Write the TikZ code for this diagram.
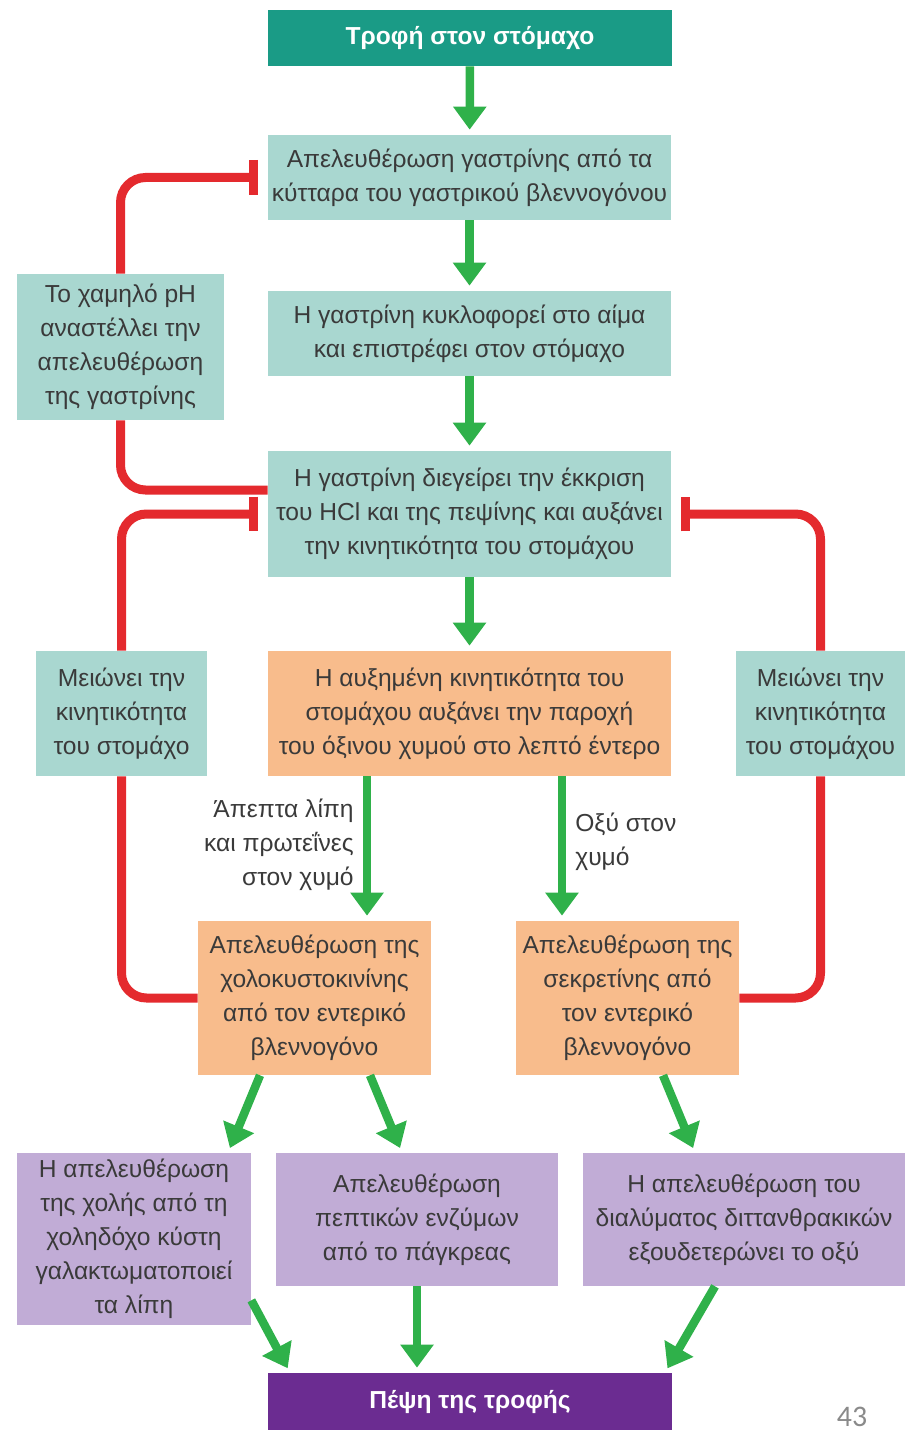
\documentclass[tikz,border=0pt]{standalone}
\usepackage{fontspec}
\setmainfont{Liberation Sans}
\newfontfamily\pagefont{Carlito}
\usepackage{xcolor}
\usepackage{tikz}
\usetikzlibrary{calc,positioning,arrows.meta}
\definecolor{figTeal}{HTML}{1A9B86}
\definecolor{figPale}{HTML}{A9D7D0}
\definecolor{figOrange}{HTML}{F8BC8C}
\definecolor{figLilac}{HTML}{C1ACD6}
\definecolor{figPurple}{HTML}{6B2C91}
\definecolor{figGreen}{HTML}{2FB14A}
\definecolor{figRed}{HTML}{E42A2E}
\definecolor{figText}{HTML}{3A3A3A}
\definecolor{figGray}{HTML}{8A8A8A}

\begin{document}
\begin{tikzpicture}[
  x=0.02cm, y=-0.02cm,
  every node/.style={font=\fontsize{14}{19.4}\selectfont, text=figText, align=center, inner sep=0pt},
  headbox/.style={fill=figTeal, text=white, font=\fontsize{14}{19.4}\selectfont\bfseries,
                  minimum width=8.08cm, minimum height=1.12cm},
  palebox/.style={fill=figPale},
  orangebox/.style={fill=figOrange},
  lilacbox/.style={fill=figLilac},
  footbox/.style={fill=figPurple, text=white, font=\fontsize{14}{19.4}\selectfont\bfseries,
                  minimum width=8.08cm, minimum height=1.14cm},
  flow/.style={-{Triangle[length=0.46cm, width=0.64cm]}, line width=0.17cm, figGreen, shorten >=0.1cm},
  inhib/.style={-{Bar[width=0.7cm]}, line width=0.18cm, figRed, rounded corners=0.5cm, shorten >=0.2cm},
  redline/.style={line width=0.18cm, figRed, rounded corners=0.5cm},
]
\useasboundingbox (0,0) rectangle (916,1432);

% Main column
\node[headbox] (food) at (470, 38) {Τροφή στον στόμαχο};
\node[palebox, minimum width=8.06cm, minimum height=1.7cm] (release) at (469.5, 177.5)
  {Απελευθέρωση γαστρίνης από τα\\κύτταρα του γαστρικού βλεννογόνου};
\node[palebox, minimum width=8.06cm, minimum height=1.7cm] (blood) at (469.5, 333.5)
  {Η γαστρίνη κυκλοφορεί στο αίμα\\και επιστρέφει στον στόμαχο};
\node[palebox, minimum width=8.06cm, minimum height=2.52cm] (stim) at (469.5, 514)
  {Η γαστρίνη διεγείρει την έκκριση\\του HCl και της πεψίνης και αυξάνει\\την κινητικότητα του στομάχου};
\node[orangebox, minimum width=8.06cm, minimum height=2.5cm] (chyme) at (469.5, 713.5)
  {Η αυξημένη κινητικότητα του\\στομάχου αυξάνει την παροχή\\του όξινου χυμού στο λεπτό έντερο};

% Side boxes
\node[palebox, minimum width=4.14cm, minimum height=2.92cm] (lowph) at (120.5, 347)
  {Το χαμηλό pH\\αναστέλλει την\\απελευθέρωση\\της γαστρίνης};
\node[palebox, minimum width=3.42cm, minimum height=2.5cm] (motleft) at (121.5, 713.5)
  {Μειώνει την\\κινητικότητα\\του στομάχο};
\node[palebox, minimum width=3.38cm, minimum height=2.5cm] (motright) at (820.5, 713.5)
  {Μειώνει την\\κινητικότητα\\του στομάχου};

% Intestinal hormones
\node[orangebox, minimum width=4.66cm, minimum height=3.08cm] (cck) at (314.5, 998)
  {Απελευθέρωση της\\χολοκυστοκινίνης\\από τον εντερικό\\βλεννογόνο};
\node[orangebox, minimum width=4.46cm, minimum height=3.08cm] (secretin) at (627.5, 998)
  {Απελευθέρωση της\\σεκρετίνης από\\τον εντερικό\\βλεννογόνο};

% Effects
\node[lilacbox, minimum width=4.68cm, minimum height=3.44cm] (bile) at (134, 1239)
  {Η απελευθέρωση\\της χολής από τη\\χοληδόχο κύστη\\γαλακτωματοποιεί\\τα λίπη};
\node[lilacbox, minimum width=5.64cm, minimum height=2.66cm] (enzymes) at (417, 1219.5)
  {Απελευθέρωση\\πεπτικών ενζύμων\\από το πάγκρεας};
\node[lilacbox, minimum width=6.44cm, minimum height=2.66cm] (bicarb) at (744, 1219.5)
  {Η απελευθέρωση του\\διαλύματος διττανθρακικών\\εξουδετερώνει το οξύ};
\node[footbox] (digest) at (470, 1401.5) {Πέψη της τροφής};

% Labels on the split
\node[anchor=east, align=right] (fatlabel) at (354, 845)
  {Άπεπτα λίπη\\και πρωτεΐνες\\στον χυμό};
\node[anchor=west, align=left] (acidlabel) at (575, 842)
  {Οξύ στον\\χυμό};
\node[font=\pagefont\fontsize{17}{20}\selectfont, text=figGray] (pagenum) at (852, 1417) {43};

% Green flows
\draw[flow] (food) -- (release);
\draw[flow] (release) -- (blood);
\draw[flow] (blood) -- (stim);
\draw[flow] (stim) -- (chyme);
\draw[flow] ([xshift=-2.05cm]chyme.south) -- ([xshift=-2.05cm]chyme.south |- cck.north);
\draw[flow] ([xshift=1.85cm]chyme.south) -- ([xshift=1.85cm]chyme.south |- secretin.north);
\draw[flow] ([xshift=-1.09cm]cck.south) -- ([xshift=1.88cm]bile.north);
\draw[flow] ([xshift=1.11cm]cck.south) -- ([xshift=-0.3cm]enzymes.north);
\draw[flow] ([xshift=0.71cm]secretin.south) -- ([xshift=-0.98cm]bicarb.north);
\draw[flow] ([yshift=0.5cm]bile.south east) -- ([xshift=-3.6cm]digest.north);
\draw[flow] (enzymes) -- (enzymes.south |- digest.north);
\draw[flow] ([xshift=-0.58cm]bicarb.south) -- ([xshift=3.9cm]digest.north);

% Red feedback (inhibition)
\draw[redline] ([yshift=0.48cm]stim.west) -| (lowph.south);
\draw[inhib] (lowph.north) |- (release.west);
\draw[redline] (cck.west) -| (motleft.south);
\draw[inhib] (motleft.north) |- (stim.west);
\draw[redline] (secretin.east) -| (motright.south);
\draw[inhib] (motright.north) |- (stim.east);

\end{tikzpicture}
\end{document}
